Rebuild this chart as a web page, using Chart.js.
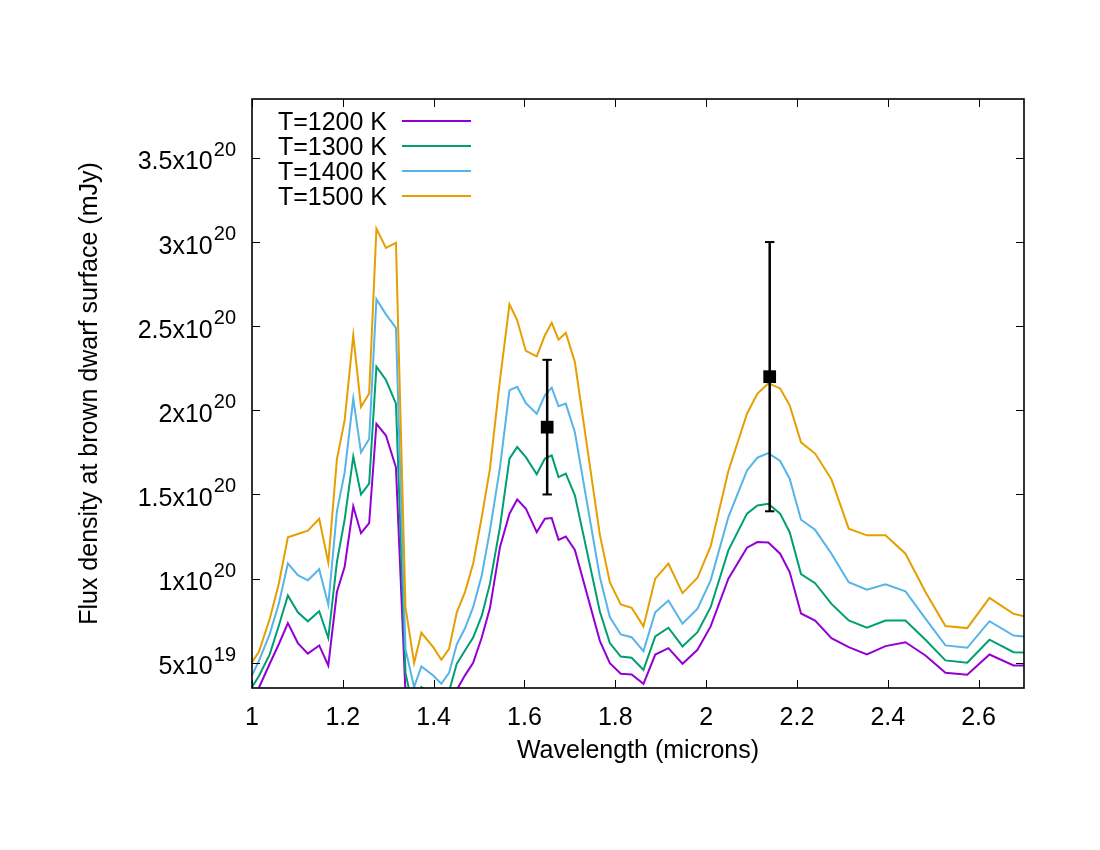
<!DOCTYPE html>
<html>
<head>
<meta charset="utf-8">
<script src="https://cdn.jsdelivr.net/npm/chart.js@4.4.1/dist/chart.umd.min.js"></script>
<style>
html,body{margin:0;padding:0;background:#ffffff;}
canvas{display:block;}
</style>
</head>
<body>
<canvas id="chart" width="1100" height="850"></canvas>
<script>
// ---- data (wavelength in microns, flux in units of 1e19 mJy) ----
const wavelengths = [1.000, 1.015, 1.039, 1.059, 1.079, 1.101, 1.123, 1.148, 1.168, 1.187,
  1.204, 1.223, 1.240, 1.258, 1.274, 1.295, 1.317, 1.338, 1.357, 1.373,
  1.399, 1.417, 1.434, 1.451, 1.469, 1.487, 1.506, 1.524, 1.546, 1.567,
  1.584, 1.603, 1.627, 1.645, 1.660, 1.675, 1.691, 1.711, 1.766, 1.788,
  1.812, 1.836, 1.862, 1.888, 1.917, 1.948, 1.981, 2.010, 2.049, 2.090,
  2.113, 2.137, 2.163, 2.184, 2.209, 2.240, 2.276, 2.314, 2.354, 2.395,
  2.439, 2.483, 2.527, 2.575, 2.624, 2.677, 2.750];

const flux1200 = [2.9, 3.5, 4.94, 6.1, 7.36, 6.17, 5.54, 6.03, 4.84, 9.2,
  10.7, 14.3, 12.7, 13.3, 19.2, 18.5, 16.6, 3.2, 2.6, 2.9,
  2.6, 2.5, 2.8, 3.4, 4.25, 5.0, 6.5, 8.25, 11.87, 13.86,
  14.7, 14.16, 12.76, 13.56, 13.6, 12.3, 12.5, 11.7, 6.3, 4.98,
  4.35, 4.3, 3.75, 5.49, 5.87, 4.94, 5.77, 7.16, 10.0, 11.84,
  12.17, 12.15, 11.48, 10.39, 7.93, 7.51, 6.46, 5.93, 5.49, 5.99,
  6.22, 5.43, 4.41, 4.29, 5.49, 4.84, 4.84];

const flux1300 = [3.55, 4.2, 5.5, 7.2, 9.0, 8.0, 7.46, 8.06, 6.47, 11.0,
  13.5, 17.25, 15.0, 15.65, 22.6, 21.8, 20.4, 4.4, 2.0, 3.55,
  3.0, 2.7, 3.3, 4.95, 5.73, 6.5, 7.8, 9.7, 13.06, 17.13,
  17.82, 17.22, 16.2, 17.13, 17.32, 16.03, 16.24, 14.95, 8.05, 6.17,
  5.37, 5.30, 4.58, 6.56, 7.08, 5.97, 6.82, 8.3, 11.68, 13.86,
  14.35, 14.45, 13.86, 12.76, 10.27, 9.73, 8.5, 7.51, 7.08, 7.51,
  7.51, 6.37, 5.14, 5.0, 6.37, 5.63, 5.58];

const flux1400 = [4.25, 5.1, 6.7, 8.5, 10.9, 10.2, 9.9, 10.56, 8.45, 14.0,
  16.3, 20.7, 17.5, 18.3, 26.6, 25.7, 24.9, 5.8, 3.55, 4.78,
  4.24, 3.75, 4.4, 6.1, 7.05, 8.3, 10.2, 12.87, 16.6, 21.2,
  21.4, 20.43, 19.8, 20.9, 21.35, 20.24, 20.4, 18.7, 10.1, 7.71,
  6.68, 6.52, 5.69, 8.0, 8.7, 7.32, 8.21, 9.9, 13.66, 16.43,
  17.19, 17.46, 16.99, 15.94, 13.5, 12.9, 11.48, 9.79, 9.34, 9.66,
  9.24, 7.62, 6.03, 5.89, 7.47, 6.62, 6.45];

const flux1500 = [5.04, 5.63, 7.6, 9.7, 12.45, 12.65, 12.85, 13.55, 10.95, 17.1,
  19.4, 24.45, 20.2, 21.0, 30.8, 29.65, 29.95, 8.3, 4.98, 6.78,
  5.93, 5.18, 5.83, 8.0, 9.2, 10.9, 13.66, 16.53, 21.8, 26.3,
  25.35, 23.53, 23.2, 24.46, 25.2, 24.2, 24.6, 22.87, 12.6, 9.79,
  8.47, 8.27, 7.16, 10.0, 10.89, 9.14, 10.05, 11.93, 16.4, 19.8,
  21.0, 21.6, 21.3, 20.3, 18.1, 17.43, 15.9, 12.97, 12.57, 12.57,
  11.48, 9.2, 7.18, 7.06, 8.86, 7.91, 7.45];

const FLUX_UNIT = 1e19;
const seriesLabels = ["T=1200 K", "T=1300 K", "T=1400 K", "T=1500 K"];
const seriesColors = ["#9400d3", "#009e73", "#56b4e9", "#e69f00"];

// observed photometry with error bars
const obsWavelengths = [1.65, 2.14];
const obsFlux = [1.9e20, 2.2e20];
const obsError = [0.4e20, 0.8e20];

// axes
const xTicks = [1, 1.2, 1.4, 1.6, 1.8, 2, 2.2, 2.4, 2.6];
const xTickLabels = ["1", "1.2", "1.4", "1.6", "1.8", "2", "2.2", "2.4", "2.6"];
const yTicks = [5e19, 1e20, 1.5e20, 2e20, 2.5e20, 3e20, 3.5e20];
const yTickMantissas = ["5x10", "1x10", "1.5x10", "2x10", "2.5x10", "3x10", "3.5x10"];
const yTickExponents = ["19", "20", "20", "20", "20", "20", "20"];

const FONT = "'Liberation Sans', Arial, Helvetica, sans-serif";
const FONT_SIZE = 25;

// ---- build datasets ----
const allSeries = [flux1200, flux1300, flux1400, flux1500];
const datasets = [];
allSeries.forEach((vals, i) => {
  datasets.push({
    label: seriesLabels[i],
    data: wavelengths.map((x, j) => ({x: x, y: vals[j] * FLUX_UNIT})),
    showLine: true,
    borderColor: seriesColors[i],
    backgroundColor: seriesColors[i],
    borderWidth: 2,
    pointRadius: 0,
    tension: 0,
    clip: 0,
    order: 4 - i + 1
  });
});
obsWavelengths.forEach((x, k) => {
  datasets.push({
    label: 'err' + k,
    data: [{x: x, y: obsFlux[k] - obsError[k]}, {x: x, y: obsFlux[k] + obsError[k]}],
    showLine: true,
    borderColor: '#000',
    borderWidth: 2.5,
    pointStyle: 'line',
    pointRadius: 4.7,
    pointBorderWidth: 2,
    pointBorderColor: '#000',
    pointBackgroundColor: '#000',
    order: 0
  });
});
datasets.push({
  label: 'observed',
  data: obsWavelengths.map((x, k) => ({x: x, y: obsFlux[k]})),
  showLine: false,
  pointStyle: 'rect',
  pointRadius: 9,
  pointBorderWidth: 0,
  pointBackgroundColor: '#000',
  backgroundColor: '#000',
  borderColor: '#000',
  order: 0
});

// ---- plugin: gnuplot-like frame, inward ticks, superscript y labels, key ----
const gnuplotDecor = {
  id: 'gnuplotDecor',
  afterDraw(chart) {
    const ctx = chart.ctx;
    const a = chart.chartArea;
    const xs = chart.scales.x, ys = chart.scales.y;
    ctx.save();
    // ticks
    ctx.strokeStyle = '#000';
    ctx.lineWidth = 1;
    const TL = 8;
    ctx.beginPath();
    xTicks.forEach(v => {
      const px = Math.round(xs.getPixelForValue(v)) + 0.5;
      ctx.moveTo(px, a.bottom); ctx.lineTo(px, a.bottom - TL);
      ctx.moveTo(px, a.top); ctx.lineTo(px, a.top + TL);
    });
    yTicks.forEach(v => {
      const py = Math.round(ys.getPixelForValue(v)) + 0.5;
      ctx.moveTo(a.left, py); ctx.lineTo(a.left + TL, py);
      ctx.moveTo(a.right, py); ctx.lineTo(a.right - TL, py);
    });
    ctx.stroke();
    // frame
    ctx.lineWidth = 1.6;
    ctx.strokeRect(a.left, a.top, a.right - a.left, a.bottom - a.top);

    // y tick labels with superscript exponent
    ctx.fillStyle = '#000';
    ctx.textBaseline = 'alphabetic';
    const rightEdge = a.left - 16;
    yTicks.forEach((v, i) => {
      const py = ys.getPixelForValue(v);
      ctx.font = (FONT_SIZE * 0.8) + 'px ' + FONT;
      const wE = ctx.measureText(yTickExponents[i]).width;
      ctx.textAlign = 'left';
      ctx.fillText(yTickExponents[i], rightEdge - wE, py - 2);
      ctx.font = FONT_SIZE + 'px ' + FONT;
      ctx.textAlign = 'right';
      ctx.fillText(yTickMantissas[i], rightEdge - wE - 1, py + 11.5);
    });

    // key (text, then line sample)
    const keyTextRight = a.left + 135;
    const keyLineX0 = a.left + 150, keyLineX1 = a.left + 219;
    const keyY0 = a.top + 22, keyDy = 25;
    ctx.font = FONT_SIZE + 'px ' + FONT;
    ctx.textAlign = 'right';
    seriesLabels.forEach((lab, i) => {
      const y = keyY0 + i * keyDy;
      ctx.fillStyle = '#000';
      ctx.fillText(lab, keyTextRight, y + 9);
      ctx.strokeStyle = seriesColors[i];
      ctx.lineWidth = 2;
      ctx.beginPath();
      ctx.moveTo(keyLineX0, y); ctx.lineTo(keyLineX1, y);
      ctx.stroke();
    });
    ctx.restore();
  }
};

new Chart(document.getElementById('chart'), {
  type: 'scatter',
  data: {datasets: datasets},
  options: {
    responsive: false,
    animation: false,
    devicePixelRatio: 1,
    layout: {padding: {top: 99, right: 76, left: 0, bottom: 0}},
    plugins: {legend: {display: false}, tooltip: {enabled: false}},
    scales: {
      x: {
        type: 'linear', min: 1, max: 2.7,
        grid: {display: false}, border: {display: false},
        afterBuildTicks: s => { s.ticks = xTicks.map(v => ({value: v})); },
        afterFit: s => { s.height = 162; },
        ticks: {
          color: '#000', font: {family: FONT, size: FONT_SIZE}, padding: 7,
          maxRotation: 0, autoSkip: false,
          callback: (v, i) => xTickLabels[i]
        },
        title: {display: true, text: 'Wavelength (microns)', color: '#000',
          font: {family: FONT, size: FONT_SIZE}, padding: {top: 0, bottom: 84}}
      },
      y: {
        type: 'linear', min: 3.5e19, max: 3.85e20,
        grid: {display: false}, border: {display: false},
        afterBuildTicks: s => { s.ticks = yTicks.map(v => ({value: v})); },
        afterFit: s => { s.width = 252; },
        ticks: {display: false},
        title: {display: true, text: 'Flux density at brown dwarf surface (mJy)', color: '#000',
          font: {family: FONT, size: FONT_SIZE}, padding: {top: 75, bottom: 0}}
      }
    }
  },
  plugins: [gnuplotDecor]
});
</script>
</body>
</html>
